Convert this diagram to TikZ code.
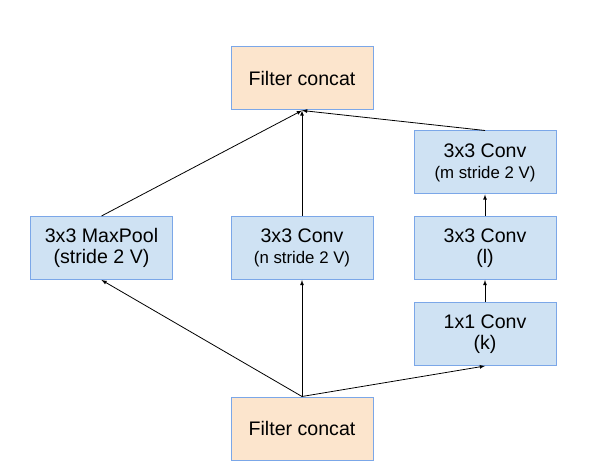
\documentclass[tikz,border=0pt]{standalone}
\usepackage{fontspec}
\setmainfont{Liberation Sans}
\usetikzlibrary{arrows}
\definecolor{convblue}{HTML}{CFE2F3}
\definecolor{concatorange}{HTML}{FCE5CD}
\definecolor{boxline}{HTML}{7BA7E8}
\newcommand{\smalltxt}{\fontsize{16.8}{19}\selectfont}

\begin{document}
\begin{tikzpicture}[x=1pt, y=-1pt,
	layer/.style={draw=boxline, line width=1pt, fill=convblue,
		minimum width=142pt, minimum height=63pt, inner sep=0pt,
		align=center, font=\fontsize{19.6}{21}\selectfont},
	concat/.style={layer, fill=concatorange},
	flow/.style={-latex, line width=0.8pt}]
\useasboundingbox (0,0) rectangle (600,470);

\node[concat] (topcat) at (302,78.5) {Filter concat};
\node[layer] (pool) at (101.5,248) {3x3 MaxPool\\(stride 2 V)};
\node[layer] (convn) at (302,248) {3x3 Conv\\{\smalltxt (n stride 2 V)}};
\node[layer] (convm) at (485,162.5) {3x3 Conv\\{\smalltxt (m stride 2 V)}};
\node[layer] (convl) at (485,248) {3x3 Conv\\(l)};
\node[layer] (convk) at (485,334) {1x1 Conv\\(k)};
\node[concat] (botcat) at (302,428.5) {Filter concat};

\draw[flow] (botcat.north) -- (pool.south);
\draw[flow] (botcat.north) -- (convn.south);
\draw[flow] (botcat.north) -- (convk.south);
\draw[flow] (convk) -- (convl);
\draw[flow] (convl) -- (convm);
\draw[flow] (pool.north) -- (topcat.south);
\draw[flow] (convn) -- (topcat);
\draw[flow] (convm.north) -- (topcat.south);
\end{tikzpicture}
\end{document}
